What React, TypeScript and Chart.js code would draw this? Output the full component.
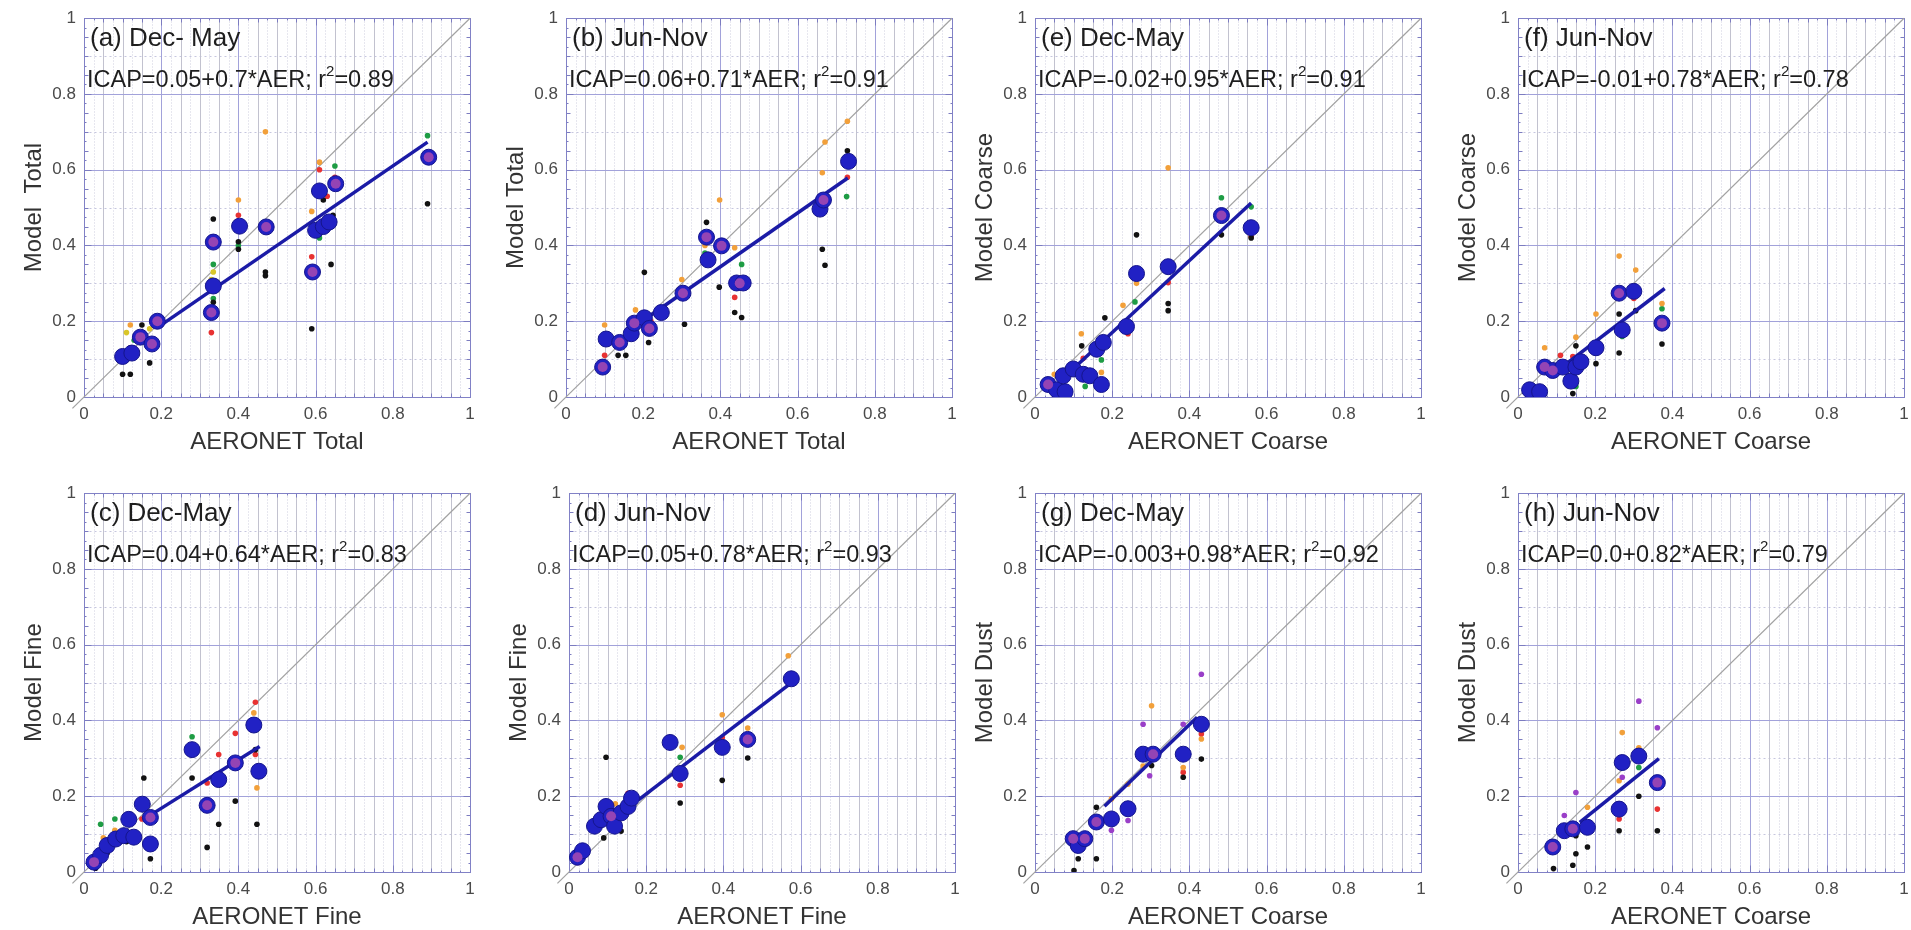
import React, { useEffect, useRef } from "react";
import { Chart, registerables } from "chart.js";

Chart.register(...registerables);

type Pt = [number, number];

// ---------- (a) Total, Dec-May ----------
const A_ICAP: Pt[] = [[0.10, 0.107], [0.124, 0.116], [0.146, 0.158], [0.176, 0.14], [0.19, 0.20], [0.33, 0.223], [0.335, 0.293], [0.335, 0.409], [0.403, 0.451], [0.472, 0.449], [0.592, 0.33], [0.60, 0.44], [0.61, 0.544], [0.62, 0.45], [0.635, 0.462], [0.652, 0.563], [0.893, 0.633]];
const A_INNER: Pt[] = [[0.146, 0.158], [0.176, 0.14], [0.19, 0.20], [0.33, 0.223], [0.335, 0.409], [0.472, 0.449], [0.592, 0.33], [0.652, 0.563], [0.893, 0.633]];
const A_BLACK: Pt[] = [[0.10, 0.06], [0.12, 0.06], [0.17, 0.09], [0.15, 0.19], [0.335, 0.47], [0.335, 0.25], [0.40, 0.39], [0.40, 0.41], [0.47, 0.33], [0.47, 0.32], [0.59, 0.18], [0.62, 0.52], [0.64, 0.35], [0.645, 0.48], [0.89, 0.51]];
const A_RED: Pt[] = [[0.33, 0.17], [0.40, 0.48], [0.59, 0.37], [0.61, 0.60], [0.63, 0.53], [0.65, 0.58], [0.17, 0.15], [0.12, 0.13]];
const A_ORANGE: Pt[] = [[0.47, 0.70], [0.40, 0.52], [0.61, 0.62], [0.12, 0.19], [0.59, 0.49], [0.19, 0.21]];
const A_GREEN: Pt[] = [[0.335, 0.35], [0.335, 0.26], [0.40, 0.40], [0.61, 0.42], [0.65, 0.61], [0.89, 0.69], [0.13, 0.15]];
const A_YELLOW: Pt[] = [[0.335, 0.33], [0.11, 0.17], [0.17, 0.18], [0.33, 0.31]];

// ---------- (b) Total, Jun-Nov ----------
const B_ICAP: Pt[] = [[0.095, 0.079], [0.104, 0.153], [0.139, 0.144], [0.169, 0.167], [0.177, 0.195], [0.203, 0.209], [0.216, 0.181], [0.247, 0.223], [0.303, 0.274], [0.364, 0.422], [0.368, 0.362], [0.403, 0.399], [0.442, 0.301], [0.459, 0.301], [0.658, 0.496], [0.667, 0.52], [0.732, 0.622]];
const B_INNER: Pt[] = [[0.095, 0.079], [0.139, 0.144], [0.177, 0.195], [0.216, 0.181], [0.303, 0.274], [0.364, 0.422], [0.403, 0.399], [0.45, 0.30], [0.667, 0.52]];
const B_BLACK: Pt[] = [[0.203, 0.329], [0.214, 0.144], [0.307, 0.192], [0.364, 0.461], [0.397, 0.29], [0.437, 0.223], [0.455, 0.21], [0.664, 0.39], [0.671, 0.348], [0.729, 0.65], [0.135, 0.11], [0.155, 0.11]];
const B_RED: Pt[] = [[0.437, 0.263], [0.729, 0.58], [0.10, 0.11], [0.22, 0.20]];
const B_ORANGE: Pt[] = [[0.10, 0.19], [0.398, 0.52], [0.30, 0.31], [0.437, 0.394], [0.671, 0.673], [0.664, 0.592], [0.729, 0.728], [0.36, 0.40], [0.18, 0.23]];
const B_GREEN: Pt[] = [[0.455, 0.35], [0.727, 0.529], [0.17, 0.17], [0.36, 0.38]];

// ---------- (c) Fine, Dec-May ----------
const C_ICAP: Pt[] = [[0.026, 0.026], [0.043, 0.044], [0.06, 0.07], [0.082, 0.087], [0.103, 0.096], [0.129, 0.092], [0.116, 0.139], [0.151, 0.179], [0.172, 0.144], [0.172, 0.074], [0.28, 0.323], [0.319, 0.176], [0.349, 0.244], [0.392, 0.288], [0.44, 0.388], [0.453, 0.266]];
const C_INNER: Pt[] = [[0.026, 0.026], [0.172, 0.144], [0.319, 0.176], [0.392, 0.288]];
const C_BLACK: Pt[] = [[0.155, 0.248], [0.172, 0.035], [0.28, 0.248], [0.319, 0.065], [0.349, 0.126], [0.392, 0.187], [0.448, 0.126], [0.444, 0.323], [0.03, 0.01], [0.06, 0.05], [0.11, 0.08]];
const C_RED: Pt[] = [[0.349, 0.31], [0.444, 0.31], [0.319, 0.235], [0.392, 0.366], [0.444, 0.448], [0.15, 0.14], [0.09, 0.10]];
const C_ORANGE: Pt[] = [[0.448, 0.222], [0.44, 0.42], [0.05, 0.09], [0.08, 0.11], [0.12, 0.13]];
const C_GREEN: Pt[] = [[0.28, 0.357], [0.444, 0.375], [0.043, 0.126], [0.08, 0.14], [0.11, 0.15]];

// ---------- (d) Fine, Jun-Nov ----------
const D_ICAP: Pt[] = [[0.022, 0.039], [0.035, 0.056], [0.066, 0.121], [0.083, 0.138], [0.096, 0.173], [0.109, 0.147], [0.118, 0.121], [0.135, 0.156], [0.153, 0.173], [0.162, 0.195], [0.262, 0.342], [0.288, 0.26], [0.397, 0.329], [0.463, 0.35], [0.576, 0.51]];
const D_INNER: Pt[] = [[0.022, 0.039], [0.109, 0.147], [0.463, 0.35]];
const D_BLACK: Pt[] = [[0.096, 0.303], [0.288, 0.182], [0.397, 0.242], [0.463, 0.301], [0.135, 0.108], [0.09, 0.09]];
const D_RED: Pt[] = [[0.288, 0.229], [0.397, 0.355], [0.153, 0.208], [0.022, 0.025]];
const D_ORANGE: Pt[] = [[0.397, 0.415], [0.568, 0.571], [0.293, 0.329], [0.463, 0.38], [0.12, 0.18]];
const D_GREEN: Pt[] = [[0.288, 0.303], [0.08, 0.14], [0.262, 0.35]];

// ---------- (e) Coarse, Dec-May ----------
const E_ICAP: Pt[] = [[0.034, 0.033], [0.056, 0.019], [0.078, 0.014], [0.073, 0.056], [0.099, 0.074], [0.125, 0.06], [0.142, 0.056], [0.172, 0.033], [0.16, 0.126], [0.177, 0.144], [0.237, 0.186], [0.263, 0.326], [0.345, 0.344], [0.483, 0.479], [0.56, 0.447]];
const E_INNER: Pt[] = [[0.034, 0.033], [0.483, 0.479]];
const E_BLACK: Pt[] = [[0.263, 0.428], [0.181, 0.209], [0.345, 0.247], [0.345, 0.228], [0.483, 0.428], [0.56, 0.42], [0.121, 0.135], [0.06, 0.01]];
const E_RED: Pt[] = [[0.345, 0.302], [0.56, 0.423], [0.241, 0.167], [0.125, 0.102]];
const E_ORANGE: Pt[] = [[0.345, 0.605], [0.12, 0.167], [0.228, 0.242], [0.172, 0.065], [0.05, 0.06], [0.263, 0.30]];
const E_GREEN: Pt[] = [[0.483, 0.526], [0.56, 0.502], [0.259, 0.251], [0.172, 0.098], [0.13, 0.028]];

// ---------- (f) Coarse, Jun-Nov ----------
const F_ICAP: Pt[] = [[0.03, 0.019], [0.056, 0.014], [0.069, 0.079], [0.09, 0.07], [0.116, 0.079], [0.137, 0.042], [0.15, 0.079], [0.163, 0.093], [0.202, 0.13], [0.27, 0.177], [0.262, 0.274], [0.30, 0.279], [0.373, 0.195]];
const F_INNER: Pt[] = [[0.069, 0.079], [0.09, 0.07], [0.262, 0.274], [0.373, 0.195]];
const F_BLACK: Pt[] = [[0.262, 0.219], [0.262, 0.116], [0.202, 0.088], [0.373, 0.14], [0.305, 0.228], [0.15, 0.135], [0.142, 0.009], [0.06, 0.0]];
const F_RED: Pt[] = [[0.142, 0.107], [0.11, 0.11], [0.30, 0.26]];
const F_ORANGE: Pt[] = [[0.262, 0.372], [0.202, 0.219], [0.305, 0.335], [0.069, 0.13], [0.15, 0.158], [0.373, 0.247]];
const F_GREEN: Pt[] = [[0.15, 0.028], [0.373, 0.233], [0.27, 0.16]];

// ---------- (g) Dust, Dec-May ----------
const G_ICAP: Pt[] = [[0.099, 0.088], [0.112, 0.07], [0.129, 0.088], [0.159, 0.132], [0.198, 0.14], [0.241, 0.167], [0.28, 0.311], [0.306, 0.311], [0.384, 0.311], [0.431, 0.39]];
const G_INNER: Pt[] = [[0.099, 0.088], [0.129, 0.088], [0.159, 0.132], [0.306, 0.311]];
const G_BLACK: Pt[] = [[0.101, 0.004], [0.112, 0.035], [0.159, 0.035], [0.159, 0.171], [0.384, 0.25], [0.431, 0.298], [0.302, 0.281]];
const G_PURPLE: Pt[] = [[0.28, 0.39], [0.384, 0.39], [0.431, 0.522], [0.297, 0.254], [0.198, 0.11], [0.241, 0.136]];
const G_ORANGE: Pt[] = [[0.302, 0.439], [0.198, 0.193], [0.241, 0.232], [0.431, 0.351], [0.384, 0.276], [0.28, 0.28]];
const G_RED: Pt[] = [[0.431, 0.364], [0.384, 0.263]];

// ---------- (h) Dust, Jun-Nov ----------
const H_ICAP: Pt[] = [[0.09, 0.066], [0.12, 0.109], [0.142, 0.114], [0.18, 0.118], [0.262, 0.166], [0.27, 0.289], [0.313, 0.306], [0.361, 0.236]];
const H_INNER: Pt[] = [[0.09, 0.066], [0.142, 0.114], [0.361, 0.236]];
const H_BLACK: Pt[] = [[0.092, 0.009], [0.142, 0.018], [0.15, 0.048], [0.18, 0.066], [0.262, 0.109], [0.313, 0.2], [0.361, 0.109], [0.15, 0.096]];
const H_PURPLE: Pt[] = [[0.15, 0.21], [0.12, 0.149], [0.27, 0.25], [0.313, 0.451], [0.361, 0.381]];
const H_ORANGE: Pt[] = [[0.18, 0.171], [0.27, 0.368], [0.313, 0.328], [0.262, 0.241]];
const H_RED: Pt[] = [[0.361, 0.166], [0.262, 0.14]];
const H_GREEN: Pt[] = [[0.313, 0.276]];

// Regression fits as printed in each panel (intercept, slope, r^2) and x-range of the fitted line
const FIT_A = { intercept: "0.05", slope: "0.7", r2: "0.89", range: [0.19, 0.89] };
const FIT_B = { intercept: "0.06", slope: "0.71", r2: "0.91", range: [0.2, 0.73] };
const FIT_C = { intercept: "0.04", slope: "0.64", r2: "0.83", range: [0.17, 0.455] };
const FIT_D = { intercept: "0.05", slope: "0.78", r2: "0.93", range: [0.18, 0.575] };
const FIT_E = { intercept: "-0.02", slope: "0.95", r2: "0.91", range: [0.1, 0.56] };
const FIT_F = { intercept: "-0.01", slope: "0.78", r2: "0.78", range: [0.08, 0.38] };
const FIT_G = { intercept: "-0.003", slope: "0.98", r2: "0.92", range: [0.18, 0.42] };
const FIT_H = { intercept: "0.0", slope: "0.82", r2: "0.79", range: [0.16, 0.365] };

const AXIS_TICKS = [0, 0.2, 0.4, 0.6, 0.8, 1];
const AXIS_LABELS = ["0", "0.2", "0.4", "0.6", "0.8", "1"];

const COL = {
  icap: "#2121c4",
  icapEdge: "#15158c",
  inner: "#9444b4",
  fit: "#1b1ba6",
  diag: "#a2a2a2",
  black: "#121212",
  red: "#e83232",
  orange: "#f2a03a",
  green: "#1e9c44",
  yellow: "#d9c629",
  purple: "#9a3fc8",
};

type Fit = { intercept: string; slope: string; r2: string; range: number[] };
type Dots = { color: string; pts: Pt[] };
type PanelSpec = {
  left: number;
  top: number;
  title: string;
  xTitle: string;
  yTitle: string;
  fit: Fit;
  icap: Pt[];
  inner: Pt[];
  dots: Dots[];
};

const PANELS: PanelSpec[] = [
  { left: 84, top: 13, title: "(a) Dec- May", xTitle: "AERONET Total", yTitle: "Model  Total", fit: FIT_A, icap: A_ICAP, inner: A_INNER,
    dots: [{ color: COL.black, pts: A_BLACK }, { color: COL.red, pts: A_RED }, { color: COL.orange, pts: A_ORANGE }, { color: COL.green, pts: A_GREEN }, { color: COL.yellow, pts: A_YELLOW }] },
  { left: 566, top: 13, title: "(b) Jun-Nov", xTitle: "AERONET Total", yTitle: "Model Total", fit: FIT_B, icap: B_ICAP, inner: B_INNER,
    dots: [{ color: COL.black, pts: B_BLACK }, { color: COL.red, pts: B_RED }, { color: COL.orange, pts: B_ORANGE }, { color: COL.green, pts: B_GREEN }] },
  { left: 1035, top: 13, title: "(e) Dec-May", xTitle: "AERONET Coarse", yTitle: "Model Coarse", fit: FIT_E, icap: E_ICAP, inner: E_INNER,
    dots: [{ color: COL.black, pts: E_BLACK }, { color: COL.red, pts: E_RED }, { color: COL.orange, pts: E_ORANGE }, { color: COL.green, pts: E_GREEN }] },
  { left: 1518, top: 13, title: "(f) Jun-Nov", xTitle: "AERONET Coarse", yTitle: "Model Coarse", fit: FIT_F, icap: F_ICAP, inner: F_INNER,
    dots: [{ color: COL.black, pts: F_BLACK }, { color: COL.red, pts: F_RED }, { color: COL.orange, pts: F_ORANGE }, { color: COL.green, pts: F_GREEN }] },
  { left: 84, top: 488, title: "(c) Dec-May", xTitle: "AERONET Fine", yTitle: "Model Fine", fit: FIT_C, icap: C_ICAP, inner: C_INNER,
    dots: [{ color: COL.black, pts: C_BLACK }, { color: COL.red, pts: C_RED }, { color: COL.orange, pts: C_ORANGE }, { color: COL.green, pts: C_GREEN }] },
  { left: 569, top: 488, title: "(d) Jun-Nov", xTitle: "AERONET Fine", yTitle: "Model Fine", fit: FIT_D, icap: D_ICAP, inner: D_INNER,
    dots: [{ color: COL.black, pts: D_BLACK }, { color: COL.red, pts: D_RED }, { color: COL.orange, pts: D_ORANGE }, { color: COL.green, pts: D_GREEN }] },
  { left: 1035, top: 488, title: "(g) Dec-May", xTitle: "AERONET Coarse", yTitle: "Model Dust", fit: FIT_G, icap: G_ICAP, inner: G_INNER,
    dots: [{ color: COL.black, pts: G_BLACK }, { color: COL.purple, pts: G_PURPLE }, { color: COL.orange, pts: G_ORANGE }, { color: COL.red, pts: G_RED }] },
  { left: 1518, top: 488, title: "(h) Jun-Nov", xTitle: "AERONET Coarse", yTitle: "Model Dust", fit: FIT_H, icap: H_ICAP, inner: H_INNER,
    dots: [{ color: COL.black, pts: H_BLACK }, { color: COL.purple, pts: H_PURPLE }, { color: COL.orange, pts: H_ORANGE }, { color: COL.red, pts: H_RED }, { color: COL.green, pts: H_GREEN }] },
];

const PLOT_W = 386;
const PLOT_H = 384;
const PAD_L = 80;
const PAD_T = 13;
const PAD_R = 16;
const PAD_B = 64;
const CANVAS_W = PAD_L + PLOT_W + PAD_R;
const CANVAS_H = PAD_T + PLOT_H + PAD_B;
const FONT = "'Liberation Sans', Arial, Helvetica, sans-serif";

const toXY = (pts: Pt[]) => pts.map(([x, y]) => ({ x, y }));
const tickLabel = (v: number) => {
  const i = AXIS_TICKS.findIndex((t) => Math.abs(t - v) < 1e-6);
  return i >= 0 ? AXIS_LABELS[i] : "";
};

// Frame, grid and inner tick marks in the style of the plotting package
function framePlugin() {
  return {
    id: "frame",
    beforeDatasetsDraw(chart: any) {
      const { ctx, chartArea: ca, scales } = chart;
      const xs = scales.x;
      const ys = scales.y;
      const px = (v: number) => Math.round(xs.getPixelForValue(v)) + 0.5;
      const py = (v: number) => Math.round(ys.getPixelForValue(v)) + 0.5;
      const L = Math.round(ca.left) + 0.5;
      const R = Math.round(ca.right) + 0.5;
      const T = Math.round(ca.top) + 0.5;
      const B = Math.round(ca.bottom) + 0.5;
      ctx.save();
      ctx.lineWidth = 1;

      // dotted vertical lines half-way between the 0.05 lines
      ctx.strokeStyle = "#cfcfdf";
      ctx.setLineDash([1, 2]);
      for (let i = 1; i < 40; i += 2) {
        const x = px(i * 0.025);
        ctx.beginPath(); ctx.moveTo(x, T); ctx.lineTo(x, B); ctx.stroke();
      }
      // dotted horizontal lines at odd tenths
      ctx.strokeStyle = "#c6c6de";
      ctx.setLineDash([2, 3]);
      for (let i = 1; i < 10; i += 2) {
        const y = py(i * 0.1);
        ctx.beginPath(); ctx.moveTo(L, y); ctx.lineTo(R, y); ctx.stroke();
      }
      ctx.setLineDash([]);
      // solid light vertical lines every 0.05
      ctx.strokeStyle = "#c2c2cf";
      for (let i = 1; i < 20; i++) {
        if (i % 4 === 0) continue;
        const x = px(i * 0.05);
        ctx.beginPath(); ctx.moveTo(x, T); ctx.lineTo(x, B); ctx.stroke();
      }
      // major grid at the labelled ticks
      ctx.strokeStyle = "#a2a2da";
      for (let i = 1; i < 5; i++) {
        const v = i * 0.2;
        const x = px(v);
        const y = py(v);
        ctx.beginPath(); ctx.moveTo(x, T); ctx.lineTo(x, B); ctx.stroke();
        ctx.beginPath(); ctx.moveTo(L, y); ctx.lineTo(R, y); ctx.stroke();
      }
      // inner tick marks on all four sides
      ctx.strokeStyle = "#7c7cc0";
      for (let i = 1; i < 40; i++) {
        const v = i * 0.025;
        const len = i % 8 === 0 ? 7 : i % 2 === 0 ? 4 : 2;
        const x = px(v);
        const y = py(v);
        ctx.beginPath();
        ctx.moveTo(x, B); ctx.lineTo(x, B - len);
        ctx.moveTo(x, T); ctx.lineTo(x, T + len);
        ctx.moveTo(L, y); ctx.lineTo(L + len, y);
        ctx.moveTo(R, y); ctx.lineTo(R - len, y);
        ctx.stroke();
      }
      // plot frame
      ctx.strokeStyle = "#8181c6";
      ctx.strokeRect(L, T, R - L, B - T);
      ctx.restore();
    },
  };
}

// Panel label and regression equation written inside the plot
function captionPlugin(spec: PanelSpec) {
  return {
    id: "caption",
    afterDatasetsDraw(chart: any) {
      const { ctx, chartArea: ca, scales } = chart;
      const ys = scales.y;
      ctx.save();
      ctx.fillStyle = "#1e1e1e";
      ctx.textBaseline = "middle";
      ctx.textAlign = "left";

      ctx.font = `26px ${FONT}`;
      ctx.fillText(spec.title, ca.left + 6, ys.getPixelForValue(0.945));

      const yEq = ys.getPixelForValue(0.835);
      const head = `ICAP=${spec.fit.intercept}+${spec.fit.slope}*AER; r`;
      let x = ca.left + 3;
      ctx.font = `23.5px ${FONT}`;
      ctx.fillText(head, x, yEq);
      x += ctx.measureText(head).width;
      ctx.font = `15px ${FONT}`;
      ctx.fillText("2", x, yEq - 9);
      x += ctx.measureText("2").width;
      ctx.font = `23.5px ${FONT}`;
      ctx.fillText(`=${spec.fit.r2}`, x, yEq);
      ctx.restore();
    },
  };
}

function Panel({ spec }: { spec: PanelSpec }) {
  const ref = useRef<HTMLCanvasElement | null>(null);

  useEffect(() => {
    const canvas = ref.current;
    if (!canvas) return;
    const a = parseFloat(spec.fit.intercept);
    const b = parseFloat(spec.fit.slope);
    const fitLine = spec.fit.range.map((x) => ({ x, y: a + b * x }));

    const datasets: any[] = [
      { label: "inner", data: toXY(spec.inner), pointRadius: 5, backgroundColor: COL.inner, borderWidth: 0 },
      { label: "ICAP", data: toXY(spec.icap), pointRadius: 8, backgroundColor: COL.icap, borderColor: COL.icapEdge, borderWidth: 1 },
      { label: "fit", data: fitLine, showLine: true, borderColor: COL.fit, borderWidth: 3.5, pointRadius: 0 },
      ...spec.dots.map((d, i) => ({ label: `model${i}`, data: toXY(d.pts), pointRadius: 2.8, backgroundColor: d.color, borderWidth: 0 })),
      { label: "1:1", data: [{ x: -0.03, y: -0.03 }, { x: 1, y: 1 }], showLine: true, borderColor: COL.diag, borderWidth: 1.2, pointRadius: 0, clip: false },
    ];

    const tickFont = { family: FONT, size: 17 };
    const titleFont = { family: FONT, size: 24 };

    const chart = new Chart(canvas, {
      type: "scatter",
      data: { datasets },
      options: {
        animation: false,
        responsive: false,
        devicePixelRatio: 1,
        layout: { padding: { left: 0, top: PAD_T, right: PAD_R, bottom: 0 } },
        plugins: { legend: { display: false }, tooltip: { enabled: false } },
        scales: {
          x: {
            type: "linear",
            min: 0,
            max: 1,
            grid: { display: false, drawTicks: false },
            border: { display: false },
            afterBuildTicks: (s: any) => { s.ticks = AXIS_TICKS.map((v) => ({ value: v })); },
            ticks: { padding: 7, color: "#4a4a4a", font: tickFont, maxRotation: 0, autoSkip: false, callback: (v: any) => tickLabel(Number(v)) },
            title: { display: true, text: spec.xTitle, color: "#333", font: titleFont, padding: { top: 0, bottom: 4 } },
            afterFit: (s: any) => { s.height = PAD_B; },
          },
          y: {
            type: "linear",
            min: 0,
            max: 1,
            grid: { display: false, drawTicks: false },
            border: { display: false },
            afterBuildTicks: (s: any) => { s.ticks = AXIS_TICKS.map((v) => ({ value: v })); },
            ticks: { padding: 8, color: "#4a4a4a", font: tickFont, autoSkip: false, callback: (v: any) => tickLabel(Number(v)) },
            title: { display: true, text: spec.yTitle, color: "#333", font: titleFont, padding: { top: 16, bottom: 0 } },
            afterFit: (s: any) => { s.width = PAD_L; },
          },
        },
      },
      plugins: [framePlugin(), captionPlugin(spec)],
    } as any);

    return () => chart.destroy();
  }, [spec]);

  return (
    <canvas
      ref={ref}
      width={CANVAS_W}
      height={CANVAS_H}
      style={{ position: "absolute", left: spec.left - PAD_L, top: spec.top - PAD_T, width: CANVAS_W, height: CANVAS_H }}
    />
  );
}

export default function App() {
  return (
    <div style={{ position: "fixed", left: 0, top: 0, width: 1911, height: 930, background: "#ffffff", overflow: "hidden" }}>
      {PANELS.map((p) => (
        <Panel key={p.title + p.left + p.top} spec={p} />
      ))}
    </div>
  );
}
